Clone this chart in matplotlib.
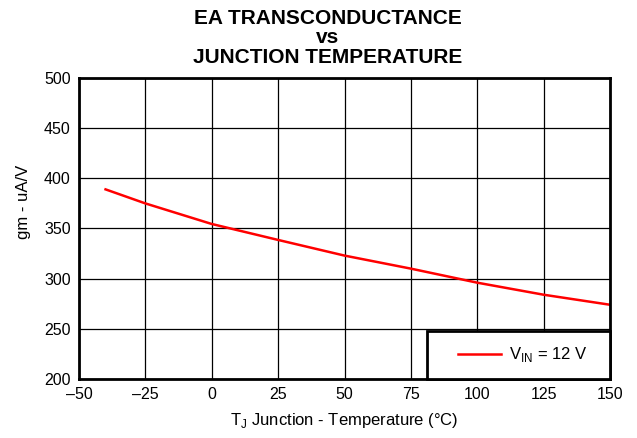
import matplotlib
matplotlib.use("Agg")
import matplotlib.pyplot as plt
from matplotlib.patches import Rectangle

plt.rcParams['font.family'] = ['Liberation Sans', 'DejaVu Sans']

temp = [-40, -25, 0, 25, 50, 75, 100, 125, 150]
gm = [389, 375, 354.5, 338.6, 323, 310, 296, 284, 274]

xticks = [-50, -25, 0, 25, 50, 75, 100, 125, 150]
xticklabels = ['\u201350', '\u201325', '0', '25', '50', '75', '100', '125', '150']
yticks = [200, 250, 300, 350, 400, 450, 500]

fig = plt.figure(figsize=(6.37, 4.38), dpi=100)
ax = fig.add_axes([79/637, 1-379/438, (610-79)/637, (379-78)/438])
ax.plot(temp, gm, color='#ff0000', lw=1.8, label=r'V$_{\mathregular{IN}}$ = 12 V')
ax.set_xlim(-50, 150)
ax.set_ylim(200, 500)
ax.set_xticks(xticks)
ax.set_xticklabels(xticklabels)
ax.set_yticks(yticks)
ax.grid(True, color='black', lw=0.9)
ax.set_axisbelow(True)
for s in ax.spines.values():
    s.set_linewidth(2)
    s.set_color('black')
ax.tick_params(length=0, labelsize=11.5, pad=6)
ax.set_xlabel(r'T$_{\mathregular{J}}$ Junction - Temperature (°C)', fontsize=12, labelpad=6)
ax.set_ylabel('gm - uA/V', fontsize=12, labelpad=8)
ax.yaxis.set_label_coords(-0.09, 0.59)
fig.text(0.514, 0.98, 'EA TRANSCONDUCTANCE\nvs\nJUNCTION TEMPERATURE', ha='center', va='top',
         fontsize=15, fontweight='bold', linespacing=1.03)

# legend box
bx0 = (427-79)/531
bh = 48/301
ax.add_patch(Rectangle((bx0, 0), 1-bx0, bh, transform=ax.transAxes, facecolor='white',
                       edgecolor='black', lw=2, zorder=3, clip_on=False))
leg = ax.legend(loc='center', bbox_to_anchor=(bx0 + 0.008, 0, 1-bx0, bh), fontsize=12, frameon=False,
                handlelength=2.6, handletextpad=0.5, borderaxespad=0)
leg.set_zorder(4)
fig.savefig('out.png', dpi=100)
